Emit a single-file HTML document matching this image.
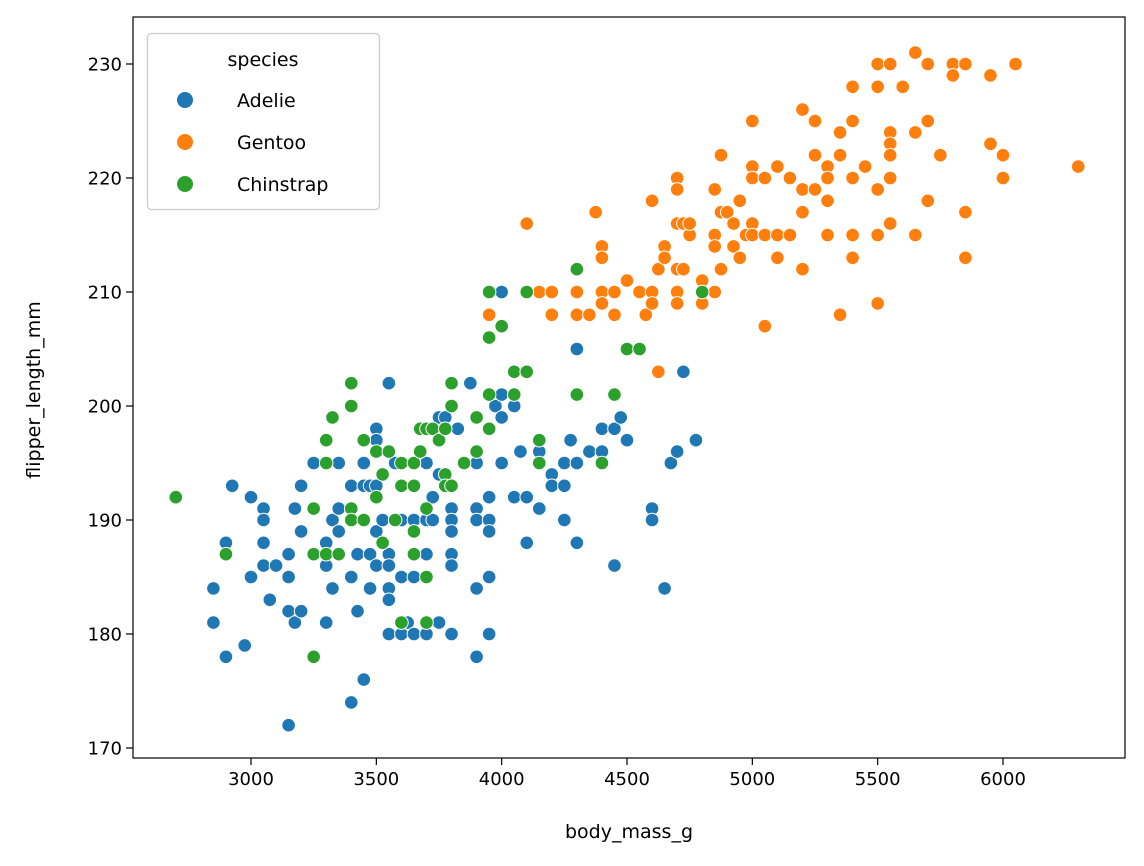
<!DOCTYPE html>
<html><head><meta charset="utf-8"><style>
html,body{margin:0;padding:0;background:#fff;}
svg{display:block;font-family:"DejaVu Sans","Liberation Sans",sans-serif;}
</style></head><body>
<svg id="chart" width="1144" height="866"></svg>
<script>
const xTicks=[3000,3500,4000,4500,5000,5500,6000];
const yTicks=[170,180,190,200,210,220,230];
const speciesNames=["Adelie","Gentoo","Chinstrap"];
const speciesColors=["#1f77b4","#ff7f0e","#2ca02c"];
const adelie=[[2850,184],[2850,181],[2900,178],[2900,188],[2925,193],[2975,179],[3000,185],[3000,192],[3050,191],[3050,190],[3050,188],[3050,186],[3075,183],[3100,186],[3150,187],[3150,185],[3150,182],[3150,172],[3175,181],[3175,191],[3200,193],[3200,189],[3200,182],[3250,195],[3250,191],[3250,187],[3300,186],[3300,188],[3300,181],[3325,190],[3325,184],[3350,195],[3350,191],[3350,189],[3400,193],[3400,185],[3400,174],[3425,187],[3425,182],[3450,195],[3450,193],[3450,176],[3475,193],[3475,187],[3475,184],[3500,198],[3500,197],[3500,193],[3500,189],[3500,186],[3525,190],[3550,202],[3550,187],[3550,186],[3550,184],[3550,183],[3550,180],[3575,195],[3600,190],[3600,185],[3600,180],[3625,181],[3650,190],[3650,187],[3650,185],[3650,180],[3700,190],[3700,187],[3700,180],[3700,195],[3725,192],[3725,190],[3750,199],[3750,194],[3750,181],[3775,199],[3800,191],[3800,190],[3800,189],[3800,187],[3800,186],[3800,180],[3800,193],[3825,198],[3875,202],[3900,195],[3900,191],[3900,190],[3900,184],[3900,178],[3950,192],[3950,190],[3950,189],[3950,185],[3950,180],[3975,200],[4000,201],[4000,199],[4000,195],[4000,210],[4050,200],[4050,192],[4075,196],[4100,192],[4100,188],[4150,196],[4150,191],[4200,194],[4200,193],[4250,195],[4250,193],[4250,190],[4275,197],[4300,205],[4300,195],[4300,188],[4350,196],[4400,198],[4400,196],[4450,198],[4450,186],[4475,199],[4500,197],[4600,191],[4600,190],[4650,184],[4675,195],[4700,196],[4725,203],[4775,197]];
const gentoo=[[3950,208],[4100,216],[4150,210],[4200,210],[4200,208],[4300,210],[4300,208],[4350,208],[4375,217],[4400,214],[4400,213],[4400,210],[4400,209],[4450,210],[4450,208],[4500,211],[4550,210],[4575,208],[4600,218],[4600,210],[4600,209],[4625,203],[4625,212],[4650,214],[4650,213],[4700,220],[4700,219],[4700,216],[4700,212],[4700,210],[4700,209],[4725,216],[4725,212],[4750,215],[4750,216],[4800,211],[4800,209],[4850,219],[4850,215],[4850,214],[4850,210],[4875,222],[4875,217],[4875,212],[4900,217],[4925,216],[4925,214],[4950,218],[4950,213],[4975,215],[5000,225],[5000,221],[5000,220],[5000,216],[5000,215],[5050,220],[5050,215],[5050,207],[5100,221],[5100,215],[5100,213],[5150,220],[5150,215],[5200,226],[5200,219],[5200,217],[5200,212],[5250,225],[5250,222],[5250,219],[5300,221],[5300,220],[5300,218],[5300,215],[5350,224],[5350,222],[5350,208],[5400,228],[5400,225],[5400,220],[5400,215],[5400,213],[5450,221],[5500,230],[5500,228],[5500,219],[5500,215],[5500,209],[5550,230],[5550,224],[5550,223],[5550,222],[5550,220],[5550,216],[5600,228],[5650,231],[5650,224],[5650,215],[5700,230],[5700,225],[5700,218],[5750,222],[5800,230],[5800,229],[5850,230],[5850,217],[5850,213],[5950,229],[5950,223],[6000,222],[6000,220],[6050,230],[6300,221]];
const chinstrap=[[2700,192],[2900,187],[3250,191],[3250,187],[3250,178],[3300,197],[3300,195],[3300,187],[3325,199],[3350,187],[3400,202],[3400,200],[3400,191],[3400,190],[3450,197],[3450,190],[3500,196],[3500,192],[3525,194],[3525,188],[3550,196],[3575,190],[3600,195],[3600,193],[3600,181],[3650,195],[3650,193],[3650,189],[3650,187],[3675,198],[3675,196],[3700,198],[3700,191],[3700,185],[3700,181],[3725,198],[3750,197],[3775,194],[3775,193],[3775,198],[3800,202],[3800,200],[3800,193],[3850,195],[3900,199],[3900,196],[3950,210],[3950,206],[3950,201],[3950,198],[4000,207],[4050,203],[4050,201],[4100,210],[4100,203],[4150,197],[4150,195],[4300,212],[4300,201],[4400,195],[4450,201],[4500,205],[4550,205],[4800,210]];

const NS="http://www.w3.org/2000/svg";
const svg=document.getElementById("chart");
const L=133,R=1125,T=17,B=758;
function xs(v){return 251+(v-3000)*(1003-251)/3000;}
function ys(v){return 64+(230-v)*(748-64)/60;}
function mk(tag,attrs,parent){const e=document.createElementNS(NS,tag);for(const k in attrs)e.setAttribute(k,attrs[k]);(parent||svg).appendChild(e);return e;}

const groups=[adelie,gentoo,chinstrap];
groups.forEach((pts,si)=>{
  const g=mk("g",{});
  
  
  pts.forEach(p=>{
    const c=mk("circle",{cx:xs(p[0]),cy:ys(p[1]),r:6.8,fill:speciesColors[si],stroke:"#fff","stroke-width":1},g);
    
    
  });
});

const fr=mk("rect",{x:L,y:T,width:R-L,height:B-T,fill:"none",stroke:"#000","stroke-width":1.2});



xTicks.forEach(v=>{
  const x=xs(v);
  mk("line",{x1:x,x2:x,y1:B,y2:B+7,stroke:"#000","stroke-width":1.2});
  const t=mk("text",{x:x,y:B+27,"text-anchor":"middle","font-size":"18"});
  t.textContent=v;
  
  
});
yTicks.forEach(v=>{
  const y=ys(v);
  mk("line",{x1:L-7,x2:L,y1:y,y2:y,stroke:"#000","stroke-width":1.2});
  const t=mk("text",{x:L-11,y:y+6.5,"text-anchor":"end","font-size":"18"});
  t.textContent=v;
  
  
});
const xl=mk("text",{x:(L+R)/2,y:838,"text-anchor":"middle","font-size":"19"});
xl.textContent="body_mass_g";


const yl=mk("text",{x:0,y:0,"text-anchor":"middle","font-size":"19",transform:"translate(40,390) rotate(-90)"});
yl.textContent="flipper_length_mm";



const lg=mk("g",{});


mk("rect",{x:147.5,y:33.5,width:232,height:176,rx:4,fill:"#fff","fill-opacity":0.8,stroke:"#ccc","stroke-width":1.3},lg);
const lt=mk("text",{x:263,y:66,"text-anchor":"middle","font-size":"19"},lg);
lt.textContent="species";


speciesNames.forEach((n,i)=>{
  const y=100+i*42;
  const e=mk("g",{},lg);
  
  
  mk("circle",{cx:185,cy:y,r:8,fill:speciesColors[i]},e);
  const t=mk("text",{x:237,y:y+7,"font-size":"19"},e);
  t.textContent=n;
});
</script>
</body></html>
